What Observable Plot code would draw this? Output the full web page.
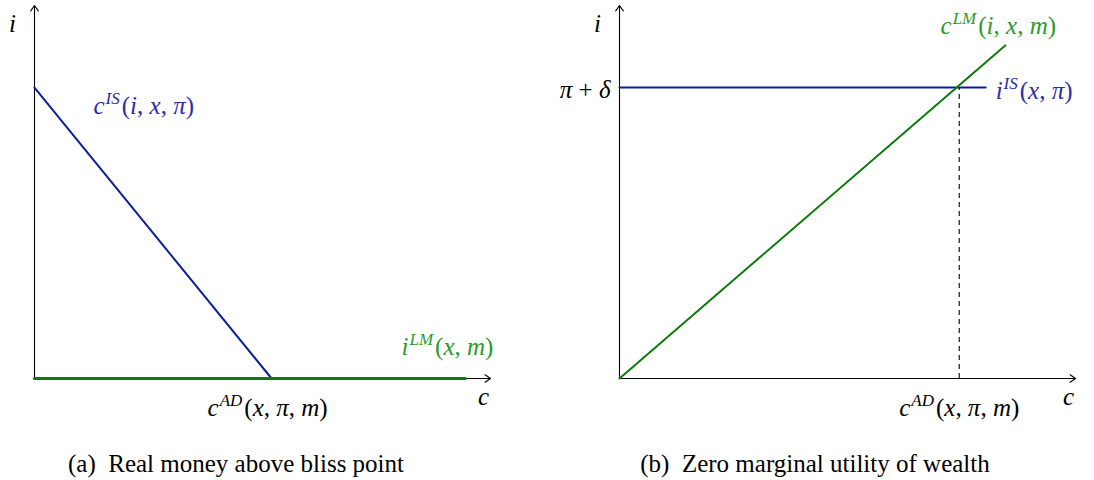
<!DOCTYPE html>
<html><head><meta charset="utf-8">
<script src="https://cdn.jsdelivr.net/npm/d3@7"></script>
<script src="https://cdn.jsdelivr.net/npm/@observablehq/plot@0.6"></script>
<style>
body{margin:0;background:#fff;}
#wrap{position:relative;width:1094px;height:480px;overflow:hidden;}
.panel{position:absolute;top:0;}
.cap{position:absolute;top:449px;font-family:"Liberation Serif","DejaVu Serif","Times New Roman",serif;font-size:25px;line-height:30px;color:#000;white-space:nowrap;transform:translateX(-50%);}
</style></head><body>
<div id="wrap"></div>
<script>
// ---------- data (model units) ----------
// Panel (a): Real money above bliss point
const axisMax = 10;
const isCurveA = [{c: 0, i: 7.8}, {c: 5.2, i: 0}];      // c^IS(i,x,π)
const lmCurveA = [{c: 0, i: 0}, {c: 9.45, i: 0}];       // i^LM(x,m)
const cAD_A = 5.2;
// Panel (b): Zero marginal utility of wealth
const piPlusDelta = 7.8;
const isCurveB = [{c: 0, i: piPlusDelta}, {c: 8.03, i: piPlusDelta}]; // i^IS(x,π)
const lmCurveB = [{c: 0, i: 0}, {c: 8.46, i: 8.93}];                  // c^LM(i,x,m)
const cAD_B = 7.45;

const labelsA = {
  iAxis: "i", cAxis: "c",
  is: "c^{IS}(i, x, π)", lm: "i^{LM}(x, m)", ad: "c^{AD}(x, π, m)"
};
const labelsB = {
  iAxis: "i", cAxis: "c",
  is: "i^{IS}(x, π)", lm: "c^{LM}(i, x, m)", ad: "c^{AD}(x, π, m)", tick: "π + δ"
};
const captions = ["(a)\u2002Real money above bliss point", "(b)\u2002Zero marginal utility of wealth"];

// ---------- styles ----------
const BLUE = "#0c1f9a", BLUE_TXT = "#2c2cae";
const GREEN = "#0a7a0a", GREEN_TXT = "#2a9a2a";
const FONT = "'Liberation Serif','DejaVu Serif','Times New Roman',serif";

function mathify(svg) {
  d3.select(svg).selectAll("g[aria-label='text'] text").each(function () {
    const s = this.textContent;
    const el = d3.select(this);
    el.text(null);
    const segs = [];
    const re = /\^\{([^}]*)\}|([^\^]+)/g;
    let m;
    while ((m = re.exec(s))) {
      if (m[1] !== undefined) segs.push({t: m[1], sup: true});
      else segs.push({t: m[2], sup: false});
    }
    let prevSup = false;
    for (const seg of segs) {
      const runs = [];
      for (const ch of seg.t) {
        const it = /[A-Za-z\u03b1-\u03c9]/.test(ch);
        if (runs.length && runs[runs.length - 1].it === it) runs[runs.length - 1].t += ch;
        else runs.push({t: ch, it});
      }
      runs.forEach((r, k) => {
        const ts = el.append("tspan").text(r.t).attr("font-style", r.it ? "italic" : "normal");
        if (seg.sup) ts.attr("font-size", 17);
        if (k === 0) {
          if (seg.sup && !prevSup) ts.attr("dy", -10).attr("dx", 1);
          else if (!seg.sup && prevSup) ts.attr("dy", 10).attr("dx", 2);
        }
      });
      prevSup = seg.sup;
    }
  });
}

function panel({marginLeft, marginRight, marks}) {
  const svg = Plot.plot({
    width: 547, height: 430,
    marginLeft, marginRight, marginTop: 5, marginBottom: 52,
    x: {domain: [0, axisMax], axis: null},
    y: {domain: [0, axisMax], axis: null},
    style: {fontFamily: FONT, background: "transparent", overflow: "visible"},
    marks
  });
  mathify(svg);
  return svg;
}

const axes = [
  Plot.arrow([{x1: 0, y1: 0, x2: axisMax, y2: 0}], {x1: "x1", y1: "y1", x2: "x2", y2: "y2", stroke: "black", strokeWidth: 1.1, headLength: 9, headAngle: 70}),
  Plot.arrow([{x1: 0, y1: 0, x2: 0, y2: axisMax}], {x1: "x1", y1: "y1", x2: "x2", y2: "y2", stroke: "black", strokeWidth: 1.1, headLength: 9, headAngle: 70})
];

const svgA = panel({
  marginLeft: 34, marginRight: 57,
  marks: [
    ...axes,
    Plot.line(isCurveA, {x: "c", y: "i", stroke: BLUE, strokeWidth: 2}),
    Plot.line(lmCurveA, {x: "c", y: "i", stroke: GREEN, strokeWidth: 3.2}),
    Plot.text([labelsA.iAxis], {x: 0, y: axisMax, text: d => d, dx: -22, dy: 18, fontSize: 25, fill: "black"}),
    Plot.text([labelsA.cAxis], {x: axisMax, y: 0, text: d => d, dx: -7, dy: 18, fontSize: 25, fill: "black"}),
    Plot.text([labelsA.is], {x: isCurveA[0].c, y: isCurveA[0].i, text: d => d, textAnchor: "start", dx: 59, dy: 18, fontSize: 25, fill: BLUE_TXT}),
    Plot.text([labelsA.lm], {x: lmCurveA[1].c, y: 0, text: d => d, textAnchor: "end", dx: 28, dy: -32, fontSize: 25, fill: GREEN_TXT}),
    Plot.text([labelsA.ad], {x: cAD_A, y: 0, text: d => d, dx: -4, dy: 29, fontSize: 25, fill: "black"})
  ]
});

const svgB = panel({
  marginLeft: 72, marginRight: 19,
  marks: [
    ...axes,
    Plot.ruleX([cAD_B], {x: d => d, y1: 0, y2: piPlusDelta, stroke: "black", strokeWidth: 1.1, strokeDasharray: "5,4"}),
    Plot.line(isCurveB, {x: "c", y: "i", stroke: BLUE, strokeWidth: 2}),
    Plot.line(lmCurveB, {x: "c", y: "i", stroke: GREEN, strokeWidth: 2}),
    Plot.text([labelsB.iAxis], {x: 0, y: axisMax, text: d => d, dx: -22, dy: 18, fontSize: 25, fill: "black"}),
    Plot.text([labelsB.cAxis], {x: axisMax, y: 0, text: d => d, dx: -7, dy: 18, fontSize: 25, fill: "black"}),
    Plot.text([labelsB.tick], {x: 0, y: piPlusDelta, text: d => d, textAnchor: "end", dx: -9, dy: 2, fontSize: 25, fill: "black"}),
    Plot.text([labelsB.is], {x: isCurveB[1].c, y: piPlusDelta, text: d => d, textAnchor: "start", dx: 10, dy: 3, fontSize: 25, fill: BLUE_TXT}),
    Plot.text([labelsB.lm], {x: lmCurveB[1].c, y: lmCurveB[1].i, text: d => d, dx: -7, dy: -19, fontSize: 25, fill: GREEN_TXT}),
    Plot.text([labelsB.ad], {x: cAD_B, y: 0, text: d => d, dy: 29, fontSize: 25, fill: "black"})
  ]
});

const wrap = document.getElementById("wrap");
svgA.classList.add("panel"); svgA.style.left = "0px";
svgB.classList.add("panel"); svgB.style.left = "547px";
wrap.appendChild(svgA); wrap.appendChild(svgB);
[[captions[0], 236], [captions[1], 815]].forEach(([t, cx]) => {
  const d = document.createElement("div");
  d.className = "cap"; d.textContent = t; d.style.left = cx + "px";
  wrap.appendChild(d);
});
</script>
</body></html>
